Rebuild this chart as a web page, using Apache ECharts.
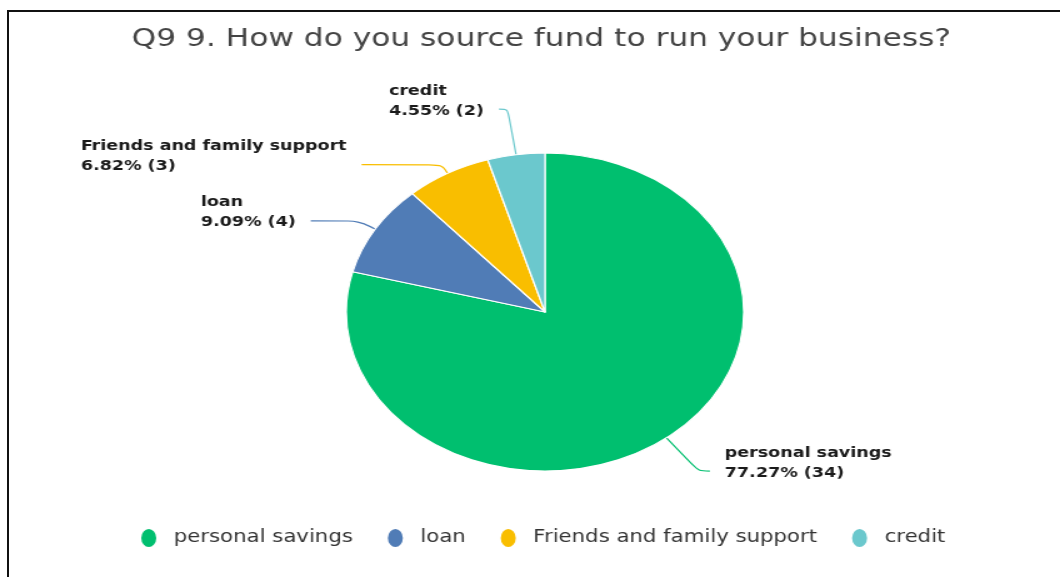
<!DOCTYPE html>
<html>
<head>
<meta charset="utf-8">
<title>Q9 source of funds</title>
<script src="https://cdn.jsdelivr.net/npm/echarts@6/dist/echarts.min.js"></script>
<style>
    html, body { margin: 0; padding: 0; background: #fff; overflow: hidden; }
    #frame {
        position: absolute; left: 7px; top: 10px; width: 1100px; height: 600px;
        border-left: 2px solid #111; border-top: 2px solid #111;
    }
    /* the reference picture is stretched sideways, so is the chart */
    #myChart {
        position: absolute; left: 0; top: 0; width: 848px; height: 577px;
        transform: scaleX(1.25); transform-origin: 0 0;
    }
</style>
</head>
<body>
<div id="frame"></div>
<div id="myChart"></div>
<script>
var titleText = "Q9 9. How do you source fund to run your business?";
var categories = ["personal savings", "loan", "Friends and family support", "credit"];
var counts = [34, 4, 3, 2];
var shownPercents = ["77.27", "9.09", "6.82", "4.55"];

var colors = ["#00BF6F", "#507CB6", "#F9BE00", "#6BC8CD"];
// label line segments per slice, to sit where the reference puts them
var lineLen = [42, 16, 10, 46];
var lineLen2 = [9, 38, 64, 7];

var myChart = echarts.init(document.getElementById("myChart"));

var data = [];
for (var i = 0; i < categories.length; i++) {
    data.push({
        name: categories[i],
        value: counts[i],
        itemStyle: { color: colors[i] },
        labelLine: { length: lineLen[i], length2: lineLen2[i] },
    });
}

var option = {
    animation: false,
    title: {
        text: titleText,
        left: 428,
        textAlign: "center",
        top: 22,
        textStyle: {
            fontFamily: "DejaVu Sans",
            fontSize: 25,
            fontWeight: "normal",
            color: "#444",
        },
    },
    legend: {
        left: 106,
        top: 522,
        itemGap: 26,
        itemWidth: 14,
        itemHeight: 20,
        symbolKeepAspect: false,
        icon: "path://M50,0A50,50,0,1,1,50,100A50,50,0,1,1,50,0Z",
        textStyle: {
            fontFamily: "DejaVu Sans",
            fontSize: 17,
            color: "#333",
            padding: [0, 0, 0, 8],
        },
        data: categories,
    },
    series: [
        {
            type: "pie",
            center: [436, 312],
            radius: 159,
            startAngle: 90,
            clockwise: true,
            avoidLabelOverlap: false,
            itemStyle: { borderColor: "#fff", borderWidth: 1.2 },
            label: {
                formatter: function (p) {
                    return "{n|" + p.name + "}\n{p|" + shownPercents[p.dataIndex] + "% (" + p.value + ")}";
                },
                padding: [0, 0, 16, 0],
                distanceToLabelLine: 12,
                rich: {
                    n: { fontFamily: "DejaVu Sans", fontSize: 14, fontWeight: "bold", color: "#1a1a1a", lineHeight: 20, align: "left" },
                    p: { fontFamily: "DejaVu Sans", fontSize: 14, fontWeight: "bold", color: "#1a1a1a", lineHeight: 20, align: "left" },
                },
            },
            labelLine: { smooth: 0.3, lineStyle: { width: 1.2 } },
            data: data,
        },
    ],
};
myChart.setOption(option);
</script>
</body>
</html>
